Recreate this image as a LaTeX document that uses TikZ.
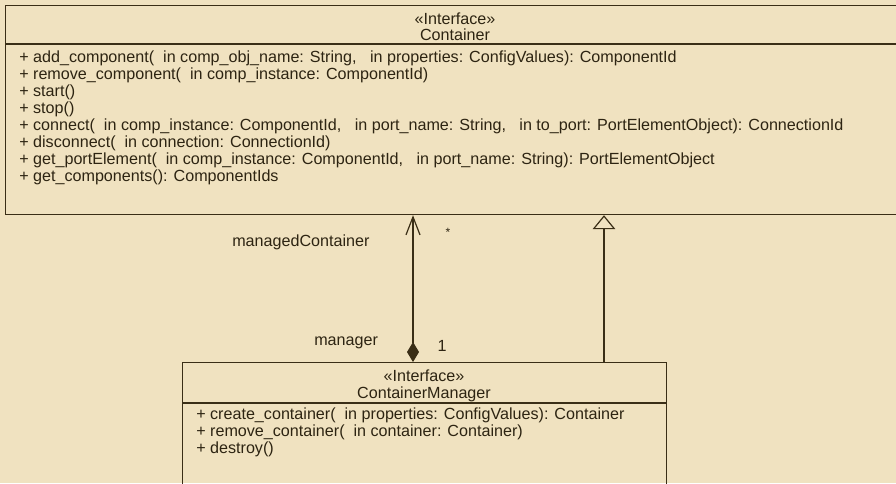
\documentclass[tikz,border=0pt]{standalone}
\usepackage{fontspec}
\setmainfont{Liberation Sans}
\usetikzlibrary{arrows.meta,calc}
\definecolor{bg}{RGB}{240,226,192}
\definecolor{ln}{RGB}{58,46,22}
\definecolor{tx}{RGB}{45,36,18}
\begin{document}
\begin{tikzpicture}[x=0.75pt,y=-0.75pt,
  font=\fontsize{12.1pt}{12.75pt}\selectfont,
  box/.style={draw=ln, line width=0.9pt, fill=none, inner sep=0pt, anchor=north west},
  sep/.style={draw=ln, line width=0.9pt},
  ops/.style={text=tx, anchor=base west, inner sep=0pt},
  head/.style={text=tx, anchor=base, inner sep=0pt},
  lbl/.style={text=tx, inner sep=0pt},
  conn/.style={draw=ln, line width=0.9pt}]
\useasboundingbox (0,0) rectangle (896,483);
\fill[bg] (0,0) rectangle (896,483);
\clip (0,0) rectangle (896,483);
% Container box
\node[box, minimum width=900*0.75pt, minimum height=209.5*0.75pt] (cont) at (5,4.5) {};
\draw[sep] (5,44) -- (905,44);
\node[head] (ch1) at (455,24) {«Interface»};
\node[head] (ch2) at (455,40.5) {Container};
\node[ops] (cops) at (19,62.5) {\vtop{%
\hbox{+ add\_component(~~in comp\_obj\_name: String,~~~in properties: ConfigValues): ComponentId}
\hbox{+ remove\_component(~~in comp\_instance: ComponentId)}
\hbox{+ start()}
\hbox{+ stop()}
\hbox{+ connect(~~in comp\_instance: ComponentId,~~~in port\_name: String,~~~in to\_port: PortElementObject): ConnectionId}
\hbox{+ disconnect(~~in connection: ConnectionId)}
\hbox{+ get\_portElement(~~in comp\_instance: ComponentId,~~~in port\_name: String): PortElementObject}
\hbox{+ get\_components(): ComponentIds}}};
% ContainerManager box
\node[box, minimum width=484*0.75pt, minimum height=140*0.75pt] (mgr) at (182,362) {};
\draw[sep] (182,403) -- (666,403);
\node[head] (mh1) at (424,381) {«Interface»};
\node[head] (mh2) at (424,398) {ContainerManager};
\node[ops] (mops) at (196,419) {\vtop{%
\hbox{+ create\_container(~~in properties: ConfigValues): Container}
\hbox{+ remove\_container(~~in container: Container)}
\hbox{+ destroy()}}};
% connectors
\coordinate (a1) at ($(cont.south west)+(408,0)$);
\coordinate (a2) at ($(mgr.north west)+(231,0)$);
\coordinate (g1) at ($(cont.south west)+(599,0)$);
\coordinate (g2) at ($(mgr.north west)+(422,0)$);
\draw[conn, {Diamond[length=15pt,width=9pt,fill=ln]}-{Straight Barb[length=13.5pt,width=10.5pt]}] (a2) -- (a1);
\draw[conn, -{Triangle[open,length=10.5pt,width=17pt,fill=bg]}] (g2) -- (g1);
\node[lbl, anchor=base west] (l1) at (232,246) {managedContainer};
\node[lbl] (l2) at (448,232) {\fontsize{9pt}{10pt}\selectfont *};
\node[lbl, anchor=base west] (l3) at (314,345) {manager};
\node[lbl, anchor=base] (l4) at (442,351) {1};
\end{tikzpicture}
\end{document}
